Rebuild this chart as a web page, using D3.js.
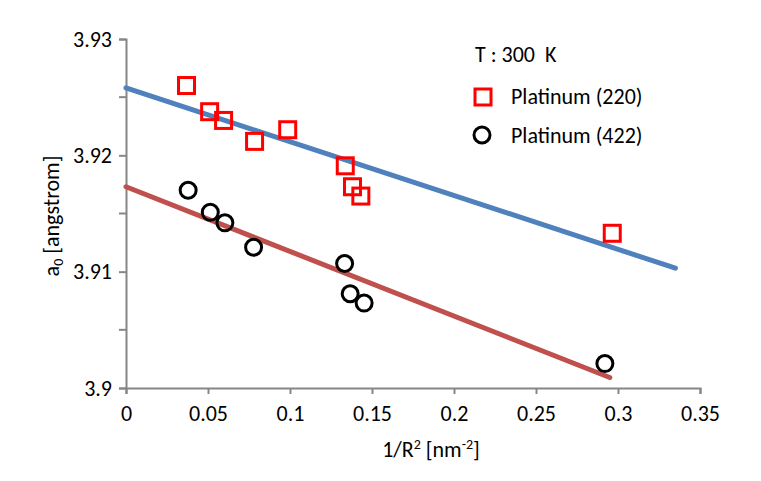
<!DOCTYPE html>
<html>
<head>
<meta charset="utf-8">
<title>Lattice parameter vs 1/R2</title>
<script src="https://d3js.org/d3.v7.min.js"></script>
<style>
  body { margin: 0; background: #fff; }
  text { font-family: Carlito, Lato, "Open Sans", sans-serif; fill: #000; }
</style>
</head>
<body>
<script>
"use strict";

// Platinum (220) – red squares
const pt220X = [0.0369, 0.0510, 0.0595, 0.0784, 0.0986, 0.1337, 0.1381, 0.1432, 0.2965];
const pt220Y = [3.9260, 3.92375, 3.9230, 3.9212, 3.9222, 3.9191, 3.9173, 3.9165, 3.9133];

// Platinum (422) – black circles
const pt422X = [0.0379, 0.0514, 0.0603, 0.0778, 0.1333, 0.1367, 0.1452, 0.2920];
const pt422Y = [3.9170, 3.9151, 3.9142, 3.9121, 3.9107, 3.9081, 3.9073, 3.9021];

// linear fits, drawn as [x, y] end points
const fit220 = [[0, 3.9258], [0.335, 3.9103]];
const fit422 = [[0, 3.9173], [0.295, 3.9009]];

const xTicks = [0, 0.05, 0.1, 0.15, 0.2, 0.25, 0.3, 0.35];
const yTicks = [3.9, 3.91, 3.92, 3.93];
const yMinor = [3.905, 3.915, 3.925];

const width = 761, height = 481;
const plot = {left: 126, right: 700, top: 39, bottom: 388};
const fs = 22;

const svg = d3.select("body").append("svg")
  .attr("width", width)
  .attr("height", height);

const x = d3.scaleLinear().domain([0, 0.35]).range([plot.left, plot.right]);
const y = d3.scaleLinear().domain([3.9, 3.93]).range([plot.bottom, plot.top]);

const axisColor = "#868686";

// y axis
const yAxis = svg.append("g")
  .attr("transform", "translate(" + plot.left + ",0)")
  .call(d3.axisLeft(y).tickValues(yTicks).tickFormat(d3.format("")).tickSize(7).tickPadding(7));
yAxis.selectAll("line.minor")
  .data(yMinor)
  .enter()
  .append("line")
  .attr("class", "minor")
  .attr("x1", -7).attr("x2", 0)
  .attr("y1", (d) => y(d)).attr("y2", (d) => y(d))
  .attr("stroke", axisColor).attr("stroke-width", 2);

// x axis
const xAxis = svg.append("g")
  .attr("transform", "translate(0," + plot.bottom + ")")
  .call(d3.axisBottom(x).tickValues(xTicks).tickFormat(d3.format("")).tickSize(6).tickPadding(11));

for (let ax of [xAxis, yAxis]) {
  ax.select(".domain").attr("stroke", axisColor).attr("stroke-width", 2);
  ax.selectAll(".tick line").attr("stroke", axisColor).attr("stroke-width", 2);
  ax.selectAll(".tick text").attr("font-size", fs).style("font-family", "Carlito, Lato, 'Open Sans', sans-serif").attr("fill", "#000");
}

// axis titles
const xTitle = svg.append("text")
  .attr("x", 431)
  .attr("y", 457)
  .attr("text-anchor", "middle")
  .attr("font-size", fs);
xTitle.append("tspan").text("1/R");
xTitle.append("tspan").attr("font-size", 14).attr("dy", -8).text("2");
xTitle.append("tspan").attr("dy", 8).text(" [nm");
xTitle.append("tspan").attr("font-size", 14).attr("dy", -8).text("-2");
xTitle.append("tspan").attr("dy", 8).text("]");

const yTitle = svg.append("text")
  .attr("transform", "translate(59,216) rotate(-90)")
  .attr("text-anchor", "middle")
  .attr("font-size", fs);
yTitle.append("tspan").text("a");
yTitle.append("tspan").attr("font-size", 14).attr("dy", 4).text("0");
yTitle.append("tspan").attr("dy", -4).text(" [angstrom]");

// fit lines
const line = d3.line().x((d) => x(d[0])).y((d) => y(d[1]));
svg.append("path")
  .datum(fit220)
  .attr("d", line)
  .attr("fill", "none")
  .attr("stroke", "#4F81BD")
  .attr("stroke-width", 5)
  .attr("stroke-linecap", "round");
svg.append("path")
  .datum(fit422)
  .attr("d", line)
  .attr("fill", "none")
  .attr("stroke", "#C0504D")
  .attr("stroke-width", 5)
  .attr("stroke-linecap", "round");

// markers
const sq = 16;
svg.append("g").selectAll("rect")
  .data(d3.zip(pt220X, pt220Y))
  .enter()
  .append("rect")
  .attr("x", (d) => x(d[0]) - sq / 2)
  .attr("y", (d) => y(d[1]) - sq / 2)
  .attr("width", sq)
  .attr("height", sq)
  .attr("fill", "none")
  .attr("stroke", "#FF0000")
  .attr("stroke-width", 3);

svg.append("g").selectAll("circle")
  .data(d3.zip(pt422X, pt422Y))
  .enter()
  .append("circle")
  .attr("cx", (d) => x(d[0]))
  .attr("cy", (d) => y(d[1]))
  .attr("r", 8)
  .attr("fill", "none")
  .attr("stroke", "#000000")
  .attr("stroke-width", 3);

// legend
svg.append("text")
  .attr("x", 475)
  .attr("y", 62)
  .attr("font-size", fs)
  .text("T : 300  K")
  .style("white-space", "pre");

svg.append("rect")
  .attr("x", 483 - sq / 2)
  .attr("y", 97 - sq / 2)
  .attr("width", sq)
  .attr("height", sq)
  .attr("fill", "none")
  .attr("stroke", "#FF0000")
  .attr("stroke-width", 3);
svg.append("text")
  .attr("x", 511)
  .attr("y", 104)
  .attr("font-size", fs)
  .text("Platinum (220)");

svg.append("circle")
  .attr("cx", 482)
  .attr("cy", 135)
  .attr("r", 8)
  .attr("fill", "none")
  .attr("stroke", "#000000")
  .attr("stroke-width", 3);
svg.append("text")
  .attr("x", 511)
  .attr("y", 143)
  .attr("font-size", fs)
  .text("Platinum (422)");
</script>
</body>
</html>
